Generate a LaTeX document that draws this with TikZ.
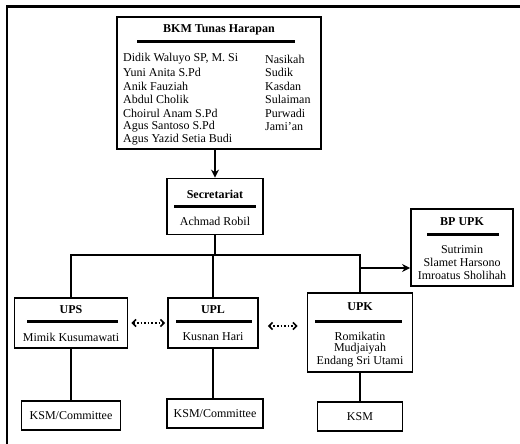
\documentclass[tikz,border=0pt]{standalone}
\usepackage{fontspec}
\setmainfont{Liberation Serif}
\usetikzlibrary{arrows.meta}
\begin{document}
\begin{tikzpicture}[x=1pt,y=-1pt,
  unitbox/.style={draw,line width=1.8pt,inner sep=0pt,fill=white},
  txt/.style={inner sep=0pt,font=\fontsize{12}{13}\selectfont},
  ttl/.style={inner sep=0pt,font=\fontsize{12}{13}\selectfont\bfseries},
  bar/.style={line width=3pt},
  link/.style={line width=1.8pt},
  arr/.style={link,-{Stealth[length=8pt,width=8pt]}},
  dotarr/.style={line width=1.6pt,dotted,
    {Straight Barb[length=3.5pt,width=7pt,line width=1.6pt]}-{Straight Barb[length=3.5pt,width=7pt,line width=1.6pt]}}
]
\useasboundingbox (0,0) rectangle (520,444);
\fill[white] (0,0) rectangle (520,444);
% outer frame
\draw[line width=2pt] (7,460) -- (7,7);
\draw[line width=3pt] (6,7) -- (530,7);

% boxes
\node[unitbox,minimum width=204pt,minimum height=132pt] (bkm) at (219,83) {};
\node[unitbox,minimum width=96pt,minimum height=56pt] (sec) at (215,206.5) {};
\node[unitbox,minimum width=102pt,minimum height=77pt] (bp) at (462,247.5) {};
\node[unitbox,minimum width=113pt,minimum height=50pt] (ups) at (71,323) {};
\node[unitbox,minimum width=90pt,minimum height=50pt] (upl) at (213,323) {};
\node[unitbox,minimum width=105pt,minimum height=79pt] (upk) at (360,332.5) {};
\node[unitbox,minimum width=99pt,minimum height=29pt] (ksma) at (71,415.5) {};
\node[unitbox,minimum width=96pt,minimum height=29pt] (ksmb) at (215,413.5) {};
\node[unitbox,minimum width=85pt,minimum height=29pt] (ksmc) at (360,416.5) {};

% BKM content
\node[ttl] (bkmt) at (219,30) {BKM Tunas Harapan};
\draw[bar] (137,42) -- (295,42);
\node[txt,anchor=west] (b1) at (123,59) {Didik Waluyo SP, M. Si};
\node[txt,anchor=west] (b2) at (123,72.5) {Yuni Anita S.Pd};
\node[txt,anchor=west] (b3) at (123,86) {Anik Fauziah};
\node[txt,anchor=west] (b4) at (123,99.5) {Abdul Cholik};
\node[txt,anchor=west] (b5) at (123,113) {Choirul Anam S.Pd};
\node[txt,anchor=west] (b6) at (123,126.5) {Agus Santoso S.Pd};
\node[txt,anchor=west] (b7) at (123,140) {Agus Yazid Setia Budi};
\node[txt,anchor=west] (c1) at (265,59) {Nasikah};
\node[txt,anchor=west] (c2) at (265,72.5) {Sudik};
\node[txt,anchor=west] (c3) at (265,86) {Kasdan};
\node[txt,anchor=west] (c4) at (265,99.5) {Sulaiman};
\node[txt,anchor=west] (c5) at (265,113) {Purwadi};
\node[txt,anchor=west] (c6) at (265,126.5) {Jami'an};

% Secretariat
\node[ttl] (sect) at (215,194) {Secretariat};
\draw[bar] (174,206) -- (256,206);
\node[txt] (secn) at (215,221) {Achmad Robil};

% BP UPK
\node[ttl] (bpt) at (462,222) {BP UPK};
\draw[bar] (427,234) -- (499,234);
\node[txt] (bp1) at (462,250) {Sutrimin};
\node[txt] (bp2) at (462,262.5) {Slamet Harsono};
\node[txt] (bp3) at (462,275) {Imroatus Sholihah};

% UPS
\node[ttl] (upst) at (71,310) {UPS};
\draw[bar] (27,321) -- (118,321);
\node[txt] (upsn) at (71,337) {Mimik Kusumawati};

% UPL
\node[ttl] (uplt) at (213,310) {UPL};
\draw[bar] (176,321) -- (252,321);
\node[txt] (upln) at (213,337) {Kusnan Hari};

% UPK
\node[ttl] (upkt) at (360,307) {UPK};
\draw[bar] (315,321) -- (402,321);
\node[txt] (upk1) at (360,336) {Romikatin};
\node[txt] (upk2) at (360,349) {Mudjaiyah};
\node[txt] (upk3) at (360,362) {Endang Sri Utami};

% KSM
\node[txt] (ka) at (ksma) {KSM/Committee};
\node[txt] (kb) at (ksmb) {KSM/Committee};
\node[txt] (kc) at (ksmc) {KSM};

% connectors
\coordinate (hub) at (215,255);
\coordinate (br) at (360,268);
\draw[arr] (sec.north |- bkm.south) -- (sec.north);
\draw[link] (sec.south) -- (hub);
\draw[link] (ups.north) -- (ups.north |- hub) -- (upk.north |- hub) -- (upk.north);
\draw[link] (upl.north |- hub) -- (upl.north);
\draw[arr] (br) -- (bp.west |- br);
\draw[dotarr,shorten <=3pt,shorten >=2pt] (ups.east) -- (upl.west);
\draw[dotarr,shorten <=9pt,shorten >=9pt] ([yshift=-3pt]upl.east) -- ([yshift=-3pt]upl.east -| upk.west);
\draw[link] (ups.south) -- (ksma.north);
\draw[link] (upl.south) -- (upl.south |- ksmb.north);
\draw[link] (upk.south) -- (ksmc.north);
\end{tikzpicture}
\end{document}
